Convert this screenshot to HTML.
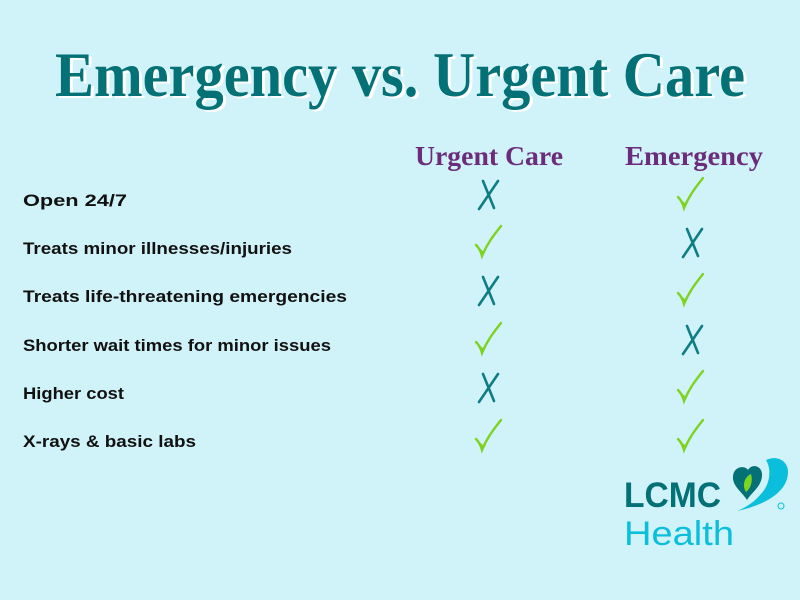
<!DOCTYPE html>
<html><head><meta charset="utf-8"><style>
html,body{margin:0;padding:0;background:#d0f2f9;}
svg{display:block}
</style></head><body>
<svg width="800" height="600" viewBox="0 0 800 600" xmlns="http://www.w3.org/2000/svg">
<defs>
<g id="x"><path d="M10,-14 L-9,14 M-5,-14 L6,13" stroke="#0e7e84" stroke-width="2.6" fill="none" stroke-linecap="round"/></g>
<g id="c"><path d="M-12,2 C-9,5 -7,9 -6,13 C-1,1 5,-7 13,-17" stroke="#7ed321" stroke-width="2.4" fill="none" stroke-linecap="round"/><path d="M-12,2 L-6,13 L-4,9 Z" fill="#7ed321"/></g>
</defs>
<rect width="800" height="600" fill="#d0f2f9"/>
<g font-family="Liberation Serif, serif" font-weight="bold" font-size="64" text-anchor="middle">
<text x="403" y="98" fill="#ffffff" textLength="690" lengthAdjust="spacingAndGlyphs">Emergency vs. Urgent Care</text>
<text x="400" y="96" fill="#037176" textLength="690" lengthAdjust="spacingAndGlyphs">Emergency vs. Urgent Care</text>
</g>
<g font-family="Liberation Serif, serif" font-weight="bold" font-size="27" fill="#6b2d7b" text-anchor="middle">
<text x="489" y="165" textLength="148" lengthAdjust="spacingAndGlyphs">Urgent Care</text>
<text x="694" y="165" textLength="138" lengthAdjust="spacingAndGlyphs">Emergency</text>
</g>
<g font-family="Liberation Sans, sans-serif" font-weight="bold" font-size="17" fill="#111" lengthAdjust="spacingAndGlyphs">
<text x="23" y="206" textLength="104" lengthAdjust="spacingAndGlyphs">Open 24/7</text>
<text x="23" y="254" textLength="269" lengthAdjust="spacingAndGlyphs">Treats minor illnesses/injuries</text>
<text x="23" y="302" textLength="324" lengthAdjust="spacingAndGlyphs">Treats life-threatening emergencies</text>
<text x="23" y="351" textLength="308" lengthAdjust="spacingAndGlyphs">Shorter wait times for minor issues</text>
<text x="23" y="399" textLength="101" lengthAdjust="spacingAndGlyphs">Higher cost</text>
<text x="23" y="447" textLength="173" lengthAdjust="spacingAndGlyphs">X-rays &amp; basic labs</text>
</g>
<use href="#x" x="488" y="195"/><use href="#c" x="690" y="195"/>
<use href="#c" x="488" y="243"/><use href="#x" x="692" y="243"/>
<use href="#x" x="488" y="291"/><use href="#c" x="690" y="291"/>
<use href="#c" x="488" y="340"/><use href="#x" x="692" y="340"/>
<use href="#x" x="488" y="388"/><use href="#c" x="690" y="388"/>
<use href="#c" x="488" y="437"/><use href="#c" x="690" y="437"/>
<g font-family="Liberation Sans, sans-serif">
<text x="624" y="507" font-size="35" font-weight="bold" fill="#037176" textLength="97" lengthAdjust="spacingAndGlyphs">LCMC</text>
<text x="624" y="545" font-size="34" fill="#0bbfdc" textLength="110" lengthAdjust="spacingAndGlyphs">Health</text>
</g>
<path d="M737,511 C765,505 788,492 788,472 C788,460 776,455 766,460 C772,470 770,485 760,495 C753,503 745,508 737,511 Z" fill="#0bbfdc"/>
<path d="M747,500 C742,492 732,486 733,476 C734,466 745,465 748,470 C752,463 763,466 762,476 C761,487 752,492 747,500 Z" fill="#037176"/>
<path d="M746,492 C742,486 744,477 751,474 C753,481 751,488 746,492 Z" fill="#7ed321"/>
<circle cx="781" cy="506" r="3" fill="none" stroke="#0bbfdc" stroke-width="1"/>
</svg>
</body></html>
